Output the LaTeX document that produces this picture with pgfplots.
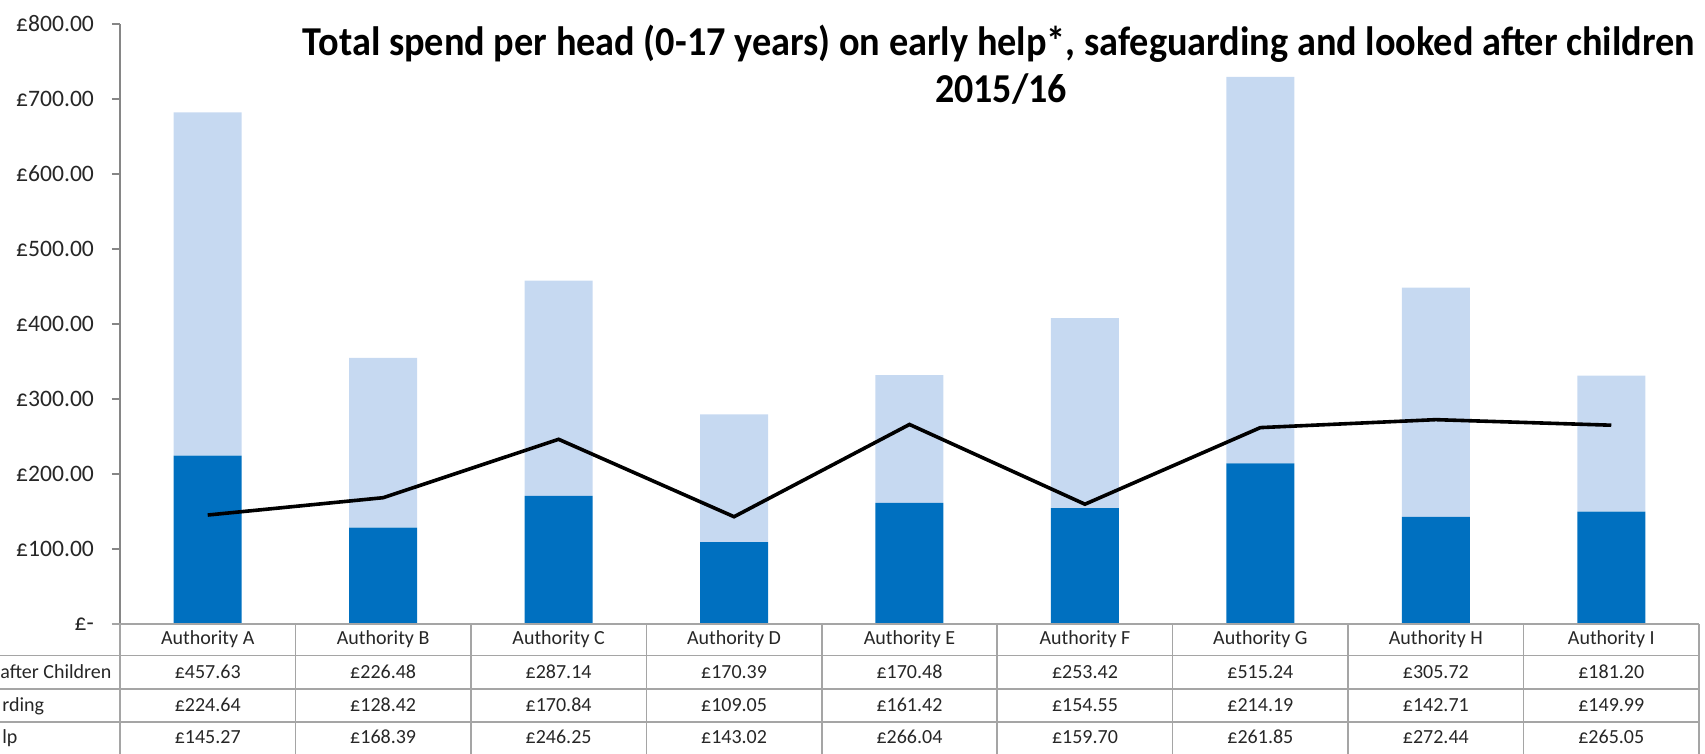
\documentclass[border=0pt]{standalone}
\usepackage{pgfplots}
\pgfplotsset{compat=1.18}
\usepackage{pgfplotstable}
\usepackage{fontspec}
\setmainfont{Carlito}
\usepackage{graphicx}

\definecolor{darkblue}{RGB}{0,112,192}
\definecolor{lightblue}{RGB}{198,217,241}
\definecolor{gridgray}{RGB}{165,165,165}
\definecolor{axisgray}{RGB}{134,134,134}
\definecolor{txt}{RGB}{38,38,38}

\pgfplotstableread{
x name lac safe eh
0 A 457.63 224.64 145.27
1 B 226.48 128.42 168.39
2 C 287.14 170.84 246.25
3 D 170.39 109.05 143.02
4 E 170.48 161.42 266.04
5 F 253.42 154.55 159.70
6 G 515.24 214.19 261.85
7 H 305.72 142.71 272.44
8 I 181.20 149.99 265.05
}\data

\begin{document}
\begin{tikzpicture}[x=0.5pt,y=0.5pt]
\begin{axis}[
  scale only axis, width=789.5pt, height=300pt,
  xmin=-0.5, xmax=8.5, ymin=0, ymax=800,
  ybar stacked, bar width=34pt,
  axis lines*=left,
  xtick=\empty,
  x axis line style={draw=none},
  y axis line style={draw=axisgray, line width=0.9pt},
  ytick={0,100,...,800},
  yticklabels={£-\hspace{8pt},£100.00,£200.00,£300.00,£400.00,£500.00,£600.00,£700.00,£800.00},
  tick align=outside, major tick length=4pt,
  ytick style={draw=axisgray, line width=0.9pt},
  yticklabel style={font=\fontsize{11.8}{14}\selectfont, text=txt, xshift=-5.5pt},
  clip=false,
]
\addplot[fill=darkblue, draw=none] table[x=x,y=safe]{\data};
\addplot[fill=lightblue, draw=none] table[x=x,y=lac]{\data};
\coordinate (O) at (rel axis cs:0,0);
\end{axis}
\begin{axis}[
  scale only axis, width=789.5pt, height=300pt,
  xmin=-0.5, xmax=8.5, ymin=0, ymax=800,
  hide axis, clip=false,
]
\addplot[black, line width=1.8pt, mark=none] table[x=x,y=eh]{\data};
\end{axis}

\coordinate (B) at ([shift={(-120,-130)}]O);
\coordinate (T) at ([shift={(1705,754)}]B);
\pgfresetboundingbox
\useasboundingbox (B) rectangle (T);

\begin{scope}[shift={(B)}]
% y axis line
\draw[axisgray, line width=0.9pt] (120,130) -- (120,730);
% data table
\draw[gridgray, line width=0.75pt] (112,130) -- (1699,130);
\foreach \yy in {98.3,65,32} \draw[gridgray, line width=0.75pt] (0,\yy) -- (1699,\yy);
\foreach \k in {0,...,9} \draw[gridgray, line width=0.75pt] ({120+175.444*\k},130) -- ({120+175.444*\k},0);

\tikzset{tbl/.style={font=\fontsize{10}{12}\selectfont, text=txt, anchor=base, inner sep=0pt}}
\foreach \i in {0,...,8} {
  \pgfplotstablegetelem{\i}{name}\of\data
  \node[tbl] at ({120+175.444*(\i+0.5)},109) {Authority \pgfplotsretval};
  \pgfplotstablegetelem{\i}{lac}\of\data
  \node[tbl] at ({120+175.444*(\i+0.5)},75) {£\pgfplotsretval};
  \pgfplotstablegetelem{\i}{safe}\of\data
  \node[tbl] at ({120+175.444*(\i+0.5)},42.3) {£\pgfplotsretval};
  \pgfplotstablegetelem{\i}{eh}\of\data
  \node[tbl] at ({120+175.444*(\i+0.5)},10) {£\pgfplotsretval};
}
\node[tbl, anchor=base west] at (0,75) {after Children};
\node[tbl, anchor=base west] at (2,42.3) {rding};
\node[tbl, anchor=base west] at (2,10) {lp};

% title
\node[anchor=base, inner sep=0pt, font=\bfseries\fontsize{19}{23}\selectfont, text=black] at (999,698)
  {\resizebox{696pt}{1.08\height}{Total spend per head (0-17 years) on early help*, safeguarding and looked after children}};
\node[anchor=base, inner sep=0pt, font=\bfseries\fontsize{19}{23}\selectfont, text=black] at (1001,651) {\scalebox{1}[1.08]{2015/16}};
\end{scope}
\end{tikzpicture}
\end{document}
